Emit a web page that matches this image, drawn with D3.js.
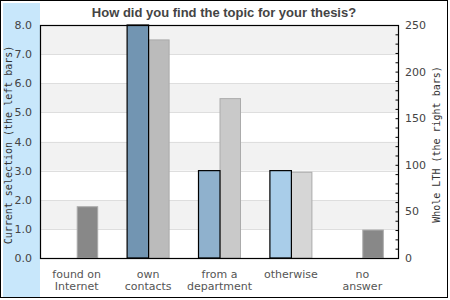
<!DOCTYPE html>
<html>
<head>
<meta charset="utf-8">
<script src="https://cdn.jsdelivr.net/npm/d3@7"></script>
<style>
  body { margin: 0; background: #fff; }
</style>
</head>
<body>
<div id="chart"></div>
<script>
let categories = [["found on", "Internet"], ["own", "contacts"], ["from a", "department"], ["otherwise"], ["no", "answer"]]
let selectionValues = [0, 8, 3, 3, 0]
let lthValues = [55, 234, 171, 92, 30]
let leftTicks = [0, 1, 2, 3, 4, 5, 6, 7, 8]
let rightTicks = [0, 50, 100, 150, 200, 250]

let selectionColors = ["#7295b2", "#7295b2", "#8fb1cd", "#a9cde9", "#a9cde9"]
let lthColors = ["#888888", "#bbbbbb", "#c9c9c9", "#d6d6d6", "#888888"]

let width = 450, height = 300
let plot = {left: 40, right: 398, top: 25, bottom: 258}

let svg = d3.select('#chart')
    .append('svg')
    .attr('width', width)
    .attr('height', height)

// outer frame and blue side band
svg.append('rect')
    .attr('x', 0.5).attr('y', 0.5)
    .attr('width', 447).attr('height', 297)
    .attr('fill', '#fff')
    .attr('stroke', '#000')

svg.append('rect')
    .attr('x', 3).attr('y', 3)
    .attr('width', 37).attr('height', 294)
    .attr('fill', '#c8e7fb')

let xScale = d3.scaleBand()
    .domain(d3.range(categories.length))
    .range([plot.left + 1, plot.right])

let yLeft = d3.scaleLinear()
    .domain([0, 8])
    .range([plot.bottom, plot.top])

let yRight = d3.scaleLinear()
    .domain([0, 250])
    .range([plot.bottom, plot.top])

// alternating bands
let bandGroup = svg.append('g')
bandGroup.selectAll('rect')
    .data(leftTicks.slice(0, -1))
    .join('rect')
    .attr('x', plot.left)
    .attr('width', plot.right - plot.left)
    .attr('y', d => yLeft(d + 1))
    .attr('height', d => yLeft(d) - yLeft(d + 1))
    .attr('fill', d => d % 2 == 1 ? '#f2f2f2' : '#fff')

bandGroup.selectAll('line')
    .data(leftTicks.slice(1, -1))
    .join('line')
    .attr('x1', plot.left)
    .attr('x2', plot.right)
    .attr('y1', d => Math.round(yLeft(d)) + 0.5)
    .attr('y2', d => Math.round(yLeft(d)) + 0.5)
    .attr('stroke', '#dedede')

let barW = 21.5

// whole LTH bars (right)
svg.append('g')
    .selectAll('rect')
    .data(lthValues)
    .join('rect')
    .attr('x', (d, i) => xScale(i) + xScale.bandwidth() / 2 + 0.5)
    .attr('y', d => yRight(d))
    .attr('width', barW - 1)
    .attr('height', d => plot.bottom - yRight(d))
    .attr('fill', (d, i) => lthColors[i])
    .attr('stroke', '#ababab')

// current selection bars (left)
svg.append('g')
    .selectAll('rect')
    .data(selectionValues.map((v, i) => ({v, i})).filter(d => d.v > 0))
    .join('rect')
    .attr('x', d => xScale(d.i) + xScale.bandwidth() / 2 - barW + 0.5)
    .attr('y', d => yLeft(d.v))
    .attr('width', barW)
    .attr('height', d => plot.bottom - yLeft(d.v))
    .attr('fill', d => selectionColors[d.i])
    .attr('stroke', '#000')
    .attr('stroke-width', 1.2)

// plot frame
svg.append('rect')
    .attr('x', plot.left + 0.5).attr('y', plot.top + 0.5)
    .attr('width', plot.right - plot.left).attr('height', plot.bottom - plot.top)
    .attr('fill', 'none')
    .attr('stroke', '#000')
    .attr('stroke-width', 1.2)

// left axis labels
svg.append('g')
    .selectAll('text')
    .data(leftTicks)
    .join('text')
    .attr('x', 32)
    .attr('y', d => yLeft(d) + 4)
    .attr('text-anchor', 'end')
    .attr('font-family', 'DejaVu Sans')
    .attr('font-size', 11)
    .attr('fill', '#444')
    .text(d => d.toFixed(1))

// right axis, minor ticks inward
let rightAxis = svg.append('g')
    .attr('transform', `translate(${plot.right + 0.5},0)`)
    .call(d3.axisRight(yRight).ticks(25).tickSize(-3).tickFormat(''))
rightAxis.select('.domain').remove()
rightAxis.selectAll('line').attr('stroke', '#000')

svg.append('g')
    .selectAll('text')
    .data(rightTicks)
    .join('text')
    .attr('x', 405)
    .attr('y', d => yRight(d) + 4)
    .attr('font-family', 'DejaVu Sans')
    .attr('font-size', 11)
    .attr('fill', '#444')
    .text(d => d)

// category labels
svg.append('g')
    .selectAll('text')
    .data(categories)
    .join('text')
    .attr('x', (d, i) => xScale(i) + xScale.bandwidth() / 2)
    .attr('y', 278)
    .attr('text-anchor', 'middle')
    .attr('font-family', 'DejaVu Sans')
    .attr('font-size', 11)
    .attr('fill', '#555')
    .selectAll('tspan')
    .data(d => d)
    .join('tspan')
    .attr('x', function() { return this.parentNode.getAttribute('x') })
    .attr('dy', (d, j) => j == 0 ? 0 : 12)
    .text(d => d)

// title
svg.append('text')
    .attr('x', 224)
    .attr('y', 16.5)
    .attr('text-anchor', 'middle')
    .attr('font-family', 'Liberation Sans, Arial, sans-serif')
    .attr('font-weight', 'bold')
    .attr('font-size', 13)
    .attr('fill', '#444')
    .text('How did you find the topic for your thesis?')

// axis titles
svg.append('text')
    .attr('transform', 'translate(12,145) rotate(-90)')
    .attr('text-anchor', 'middle')
    .attr('font-family', 'DejaVu Sans Mono')
    .attr('font-size', 10)
    .attr('fill', '#333')
    .text('Current selection (the left bars)')

svg.append('text')
    .attr('transform', 'translate(439.5,144.5) rotate(-90)')
    .attr('text-anchor', 'middle')
    .attr('font-family', 'DejaVu Sans Mono')
    .attr('font-size', 10)
    .attr('fill', '#333')
    .text('Whole LTH (the right bars)')
</script>
</body>
</html>
